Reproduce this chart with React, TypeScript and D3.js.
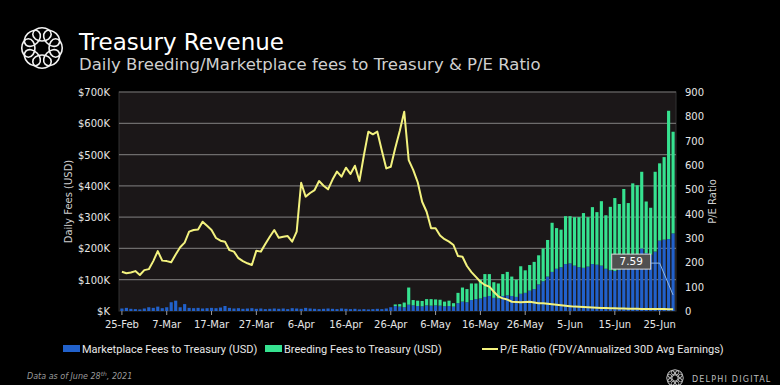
import React from 'react';
import * as d3 from 'd3';

// daily fees, 25-Feb-2021 .. 28-Jun-2021 (124 days), in $K
const marketplaceFees = [
  8, 10, 7, 6, 5, 8, 12, 10, 14, 9, 12, 28, 33, 12, 22, 10, 9, 10, 8, 9,
  10, 9, 11, 16, 10, 8, 9, 7, 8, 9, 7, 8, 6, 7, 8, 7, 8, 6, 9, 8,
  7, 10, 8, 7, 6, 7, 8, 7, 6, 8, 7, 6, 7, 5, 6, 5, 6, 7, 6, 8,
  12, 16, 14, 12, 20, 18, 16, 15, 18, 17, 18, 17, 15, 16, 14, 25, 30, 28, 35, 38,
  40, 45, 48, 42, 40, 48, 50, 48, 45, 55, 58, 65, 70, 85, 95, 110, 125, 135, 140, 150,
  152, 145, 140, 138, 142, 150, 148, 145, 135, 130, 128, 132, 140, 150, 160, 170, 200, 185, 180, 190,
  225, 228, 230, 248,
];

const breedingFees = [
  0, 0, 0, 0, 0, 0, 0, 0, 0, 0, 0, 0, 0, 0, 0, 0, 0, 0, 0, 0,
  0, 0, 0, 0, 0, 0, 0, 0, 0, 0, 0, 0, 0, 0, 0, 0, 0, 0, 0, 0,
  0, 0, 0, 0, 0, 0, 0, 0, 0, 0, 0, 0, 0, 0, 0, 0, 0, 0, 0, 0,
  0, 5, 8, 15, 55, 17, 17, 17, 20, 21, 19, 19, 15, 17, 11, 33, 45, 42, 53, 50,
  60, 73, 70, 50, 48, 70, 75, 62, 55, 88, 72, 82, 87, 93, 105, 117, 157, 130, 120, 153,
  151, 155, 160, 175, 158, 182, 168, 206, 171, 203, 233, 210, 250, 195, 248, 232, 245, 165, 150, 255,
  247, 264, 410, 325,
];

const peRatio = [
  161, 155, 158, 164, 148, 168, 172, 205, 246, 207, 205, 200, 232, 262, 281, 326, 333, 335, 367, 350,
  333, 300, 289, 285, 250, 244, 217, 205, 196, 189, 248, 244, 275, 305, 333, 301, 305, 308, 285, 326,
  527, 470, 485, 497, 534, 515, 500, 540, 573, 552, 589, 563, 597, 534, 640, 737, 726, 737, 660, 586,
  593, 670, 740, 819, 620, 580, 530, 449, 408, 340, 340, 310, 295, 285, 271, 226, 223, 185, 160, 140,
  120, 107, 100, 79, 60, 52, 47, 38, 37, 36, 37, 38, 35, 32, 32, 30, 28, 26, 24, 22,
  20, 18, 17, 16, 15, 14, 13, 12, 12, 11, 11, 10, 10, 9, 9, 9, 8, 8, 8, 8,
  8, 7.8, 7.7, 7.59,
];

const leftTicks = [0, 100, 200, 300, 400, 500, 600, 700];
const rightTicks = [0, 100, 200, 300, 400, 500, 600, 700, 800, 900];
const xTickLabels = ['25-Feb', '7-Mar', '17-Mar', '27-Mar', '6-Apr', '16-Apr', '26-Apr', '6-May', '16-May', '26-May', '5-Jun', '15-Jun', '25-Jun'];

const days = d3.timeDay.range(new Date(2021, 1, 25), new Date(2021, 5, 29));
const fmt = d3.timeFormat('%-d-%b');

const BLUE = '#2161cb';
const GREEN = '#36e290';
const YELLOW = '#f3f27e';
const AXIS_FONT = '"DejaVu Sans", sans-serif';

const Logo = ({ cx, cy, r, stroke, sw }: { cx: number; cy: number; r: number; stroke: string; sw: number }) => (
  <g fill="none" stroke={stroke} strokeWidth={sw}>
    {d3.range(8).map((i) => {
      const a = (i / 8) * Math.PI * 2;
      const ex = cx + Math.cos(a) * r * 0.62;
      const ey = cy + Math.sin(a) * r * 0.62;
      return <ellipse key={i} cx={ex} cy={ey} rx={r * 0.42} ry={r * 0.3} transform={`rotate(${(a * 180) / Math.PI + 90} ${ex} ${ey})`} />;
    })}
  </g>
);

export default function App() {
  const margin = { top: 92, right: 104, bottom: 74, left: 119 };
  const width = 780;
  const height = 385;
  const x0 = margin.left, x1 = width - margin.right;
  const y0 = height - margin.bottom, y1 = margin.top;

  const x = d3.scaleBand<number>().domain(d3.range(days.length)).range([x0, x1]).padding(0.3);
  const yL = d3.scaleLinear().domain([0, 700]).range([y0, y1]);
  const yR = d3.scaleLinear().domain([0, 900]).range([y0, y1]);
  const cx = (i: number) => (x(i) || 0) + x.bandwidth() / 2;

  const line = d3.line<number>().x((_, i) => cx(i)).y((d) => yR(d));

  const last = days.length - 1;
  // callout for last P/E value
  const boxR = cx(last - 5);
  const boxY = yR(205);

  return (
    <div style={{ position: 'fixed', left: 0, top: 0, width, height, background: '#000' }}>
      <svg width={width} height={height} style={{ display: 'block' }}>
        <rect width={width} height={height} fill="#000" />

        <Logo cx={42} cy={48} r={22} stroke="#f2f2f2" sw={1.6} />
        <text x={79} y={50} fill="#fff" fontFamily={AXIS_FONT} fontSize={23}>Treasury Revenue</text>
        <text x={79} y={70} fill="#cfcfcf" fontFamily={AXIS_FONT} fontSize={16.5}>Daily Breeding/Marketplace fees to Treasury &amp; P/E Ratio</text>

        <rect x={x0} y={y1} width={x1 - x0} height={y0 - y1} fill="#1b1718" stroke="#333" />
        {leftTicks.slice(1).map((t) => (
          <line key={t} x1={x0} x2={x1} y1={yL(t)} y2={yL(t)} stroke="#6e6c6c" strokeWidth={1.2} />
        ))}

        {days.map((_, i) => (
          <g key={i}>
            <rect x={x(i)} width={x.bandwidth()} y={yL(marketplaceFees[i])} height={y0 - yL(marketplaceFees[i])} fill={BLUE} />
            {breedingFees[i] > 0 && (
              <rect x={x(i)} width={x.bandwidth()} y={yL(marketplaceFees[i] + breedingFees[i])}
                height={yL(marketplaceFees[i]) - yL(marketplaceFees[i] + breedingFees[i])} fill={GREEN} />
            )}
          </g>
        ))}

        <path d={line(peRatio) || ''} fill="none" stroke={YELLOW} strokeWidth={2} strokeLinejoin="round" />

        <polyline points={`${boxR},${boxY + 2} ${cx(last - 3)},${boxY + 2} ${cx(last)},${yR(66)}`} fill="none" stroke="#8fb6e6" strokeWidth={1} />
        <rect x={boxR - 39} y={boxY - 7} width={39} height={15} fill="#505050" stroke="#d8d8d8" strokeWidth={1} />
        <text x={boxR - 19.5} y={boxY + 4} textAnchor="middle" fill="#fff" fontFamily={AXIS_FONT} fontSize={10.5}>{peRatio[last].toFixed(2)}</text>

        {leftTicks.map((t) => (
          <text key={t} x={x0 - 9} y={yL(t) + 4} textAnchor="end" fill="#e6e6e6" fontFamily={AXIS_FONT} fontSize={10}>
            {t === 0 ? '$K' : `$${t}K`}
          </text>
        ))}
        {rightTicks.map((t) => (
          <text key={t} x={x1 + 9} y={yR(t) + 4} fill="#e6e6e6" fontFamily={AXIS_FONT} fontSize={10}>{t}</text>
        ))}
        <text transform={`translate(72,${(y0 + y1) / 2}) rotate(-90)`} textAnchor="middle" fill="#cfcfcf" fontFamily={AXIS_FONT} fontSize={10}>Daily Fees (USD)</text>
        <text transform={`translate(716,${(y0 + y1) / 2}) rotate(-90)`} textAnchor="middle" fill="#cfcfcf" fontFamily={AXIS_FONT} fontSize={10}>P/E Ratio</text>

        {days.map((d, i) => {
          const lbl = fmt(d);
          if (!xTickLabels.includes(lbl)) return null;
          return (
            <g key={lbl}>
              <line x1={cx(i)} x2={cx(i)} y1={y0} y2={y0 + 4} stroke="#9a9a9a" />
              <text x={cx(i)} y={y0 + 17} textAnchor="middle" fill="#e6e6e6" fontFamily={AXIS_FONT} fontSize={10}>{lbl}</text>
            </g>
          );
        })}

        <g fontFamily='"Liberation Sans Narrow", "Roboto", sans-serif' fontSize={11} fill="#e8e8e8">
          <rect x={63} y={345} width={17} height={7} fill={BLUE} />
          <text x={82} y={353}>Marketplace Fees to Treasury (USD)</text>
          <rect x={265} y={345} width={17} height={7} fill={GREEN} />
          <text x={284} y={353}>Breeding Fees to Treasury (USD)</text>
          <line x1={482} x2={498} y1={349} y2={349} stroke={YELLOW} strokeWidth={2} />
          <text x={500} y={353}>P/E Ratio (FDV/Annualized 30D Avg Earnings)</text>
        </g>

        <text x={27} y={379} fill="#9a9a9a" fontFamily={AXIS_FONT} fontSize={8} fontStyle="italic">
          Data as of June 28<tspan dy={-3} fontSize={6}>th</tspan><tspan dy={3}>, 2021</tspan>
        </text>

        <Logo cx={675} cy={378} r={9} stroke="#bbbbbb" sw={1} />
        <text x={692} y={382} fill="#bdbdbd" fontFamily={AXIS_FONT} fontSize={8} letterSpacing={1.2}>DELPHI DIGITAL</text>
      </svg>
    </div>
  );
}
